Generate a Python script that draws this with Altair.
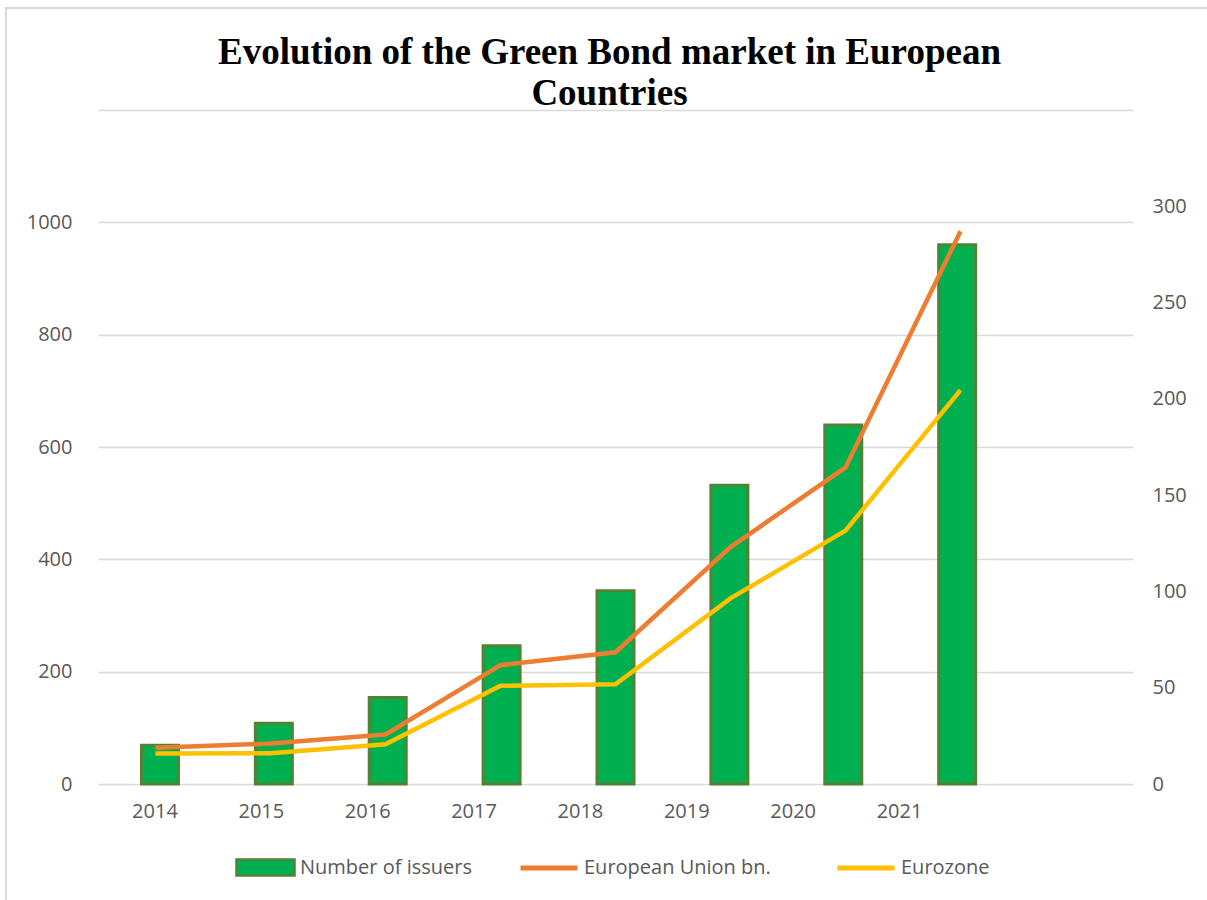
import altair as alt
import pandas as pd

years = [2014, 2015, 2016, 2017, 2018, 2019, 2020, 2021]
issuers = [69, 108, 154, 246, 344, 532, 639, 960]
eu_bn = [18.8, 21.0, 25.7, 61.7, 68.4, 123.0, 164.4, 287.0]
eurozone = [15.9, 16.0, 20.6, 51.0, 51.8, 96.4, 131.6, 204.5]

slot = [y - years[0] + 0.5 for y in years]

bars_df = pd.DataFrame({"slot": slot, "year": years, "value": issuers,
                        "series": ["Number of issuers"] * len(years)})
lines_df = pd.DataFrame({
    "slot": slot * 2,
    "year": years * 2,
    "value": eu_bn + eurozone,
    "series": ["European Union bn."] * len(years) + ["Eurozone"] * len(years),
})
years_df = pd.DataFrame({"year": years})

FONT = "Open Sans"
FS = 20
GREY = "#595959"
GRID = "#D9D9D9"

xslot = alt.Scale(domain=[0, 9], nice=False, zero=False)

bars = alt.Chart(bars_df).mark_bar(size=37, stroke="#548235", strokeWidth=3).encode(
    x=alt.X("slot:Q", scale=xslot, axis=None),
    y=alt.Y("value:Q", scale=alt.Scale(domain=[0, 1200], nice=False),
            axis=alt.Axis(orient="left", values=[0, 200, 400, 600, 800, 1000, 1200],
                          format="d",
                          labelExpr="datum.value >= 1200 ? '' : datum.label",
                          grid=True, gridColor=GRID, gridWidth=1.5, domain=False, ticks=False,
                          labelPadding=26, labelFont=FONT, labelFontSize=FS, labelColor=GREY,
                          title=None)),
    fill=alt.Fill("series:N", scale=alt.Scale(domain=["Number of issuers"], range=["#00B050"]),
                  legend=alt.Legend(orient="none", legendX=137, legendY=727, direction="horizontal",
                                    title=None, symbolType="M-1,-0.28H1V0.28H-1Z", symbolSize=3364,
                                    symbolStrokeColor="#548235", symbolStrokeWidth=2.5,
                                    symbolFillColor="#00B050", symbolOpacity=1,
                                    labelFont=FONT, labelFontSize=FS, labelColor=GREY, labelOffset=4,
                                    labelLimit=400, padding=0)),
)

lines = alt.Chart(lines_df).mark_line(strokeWidth=4.5).encode(
    x=alt.X("slot:Q", scale=xslot, axis=None),
    y=alt.Y("value:Q", scale=alt.Scale(domain=[0, 350], nice=False),
            axis=alt.Axis(orient="right", values=[0, 50, 100, 150, 200, 250, 300],
                          grid=False, domain=False, ticks=False, labelPadding=19,
                          labelFont=FONT, labelFontSize=FS, labelColor=GREY, title=None)),
    stroke=alt.Stroke("series:N",
                      scale=alt.Scale(domain=["European Union bn.", "Eurozone"],
                                      range=["#ED7D31", "#FFC000"]),
                      legend=alt.Legend(orient="none", legendX=420, legendY=727, direction="horizontal",
                                        title=None, symbolType="stroke", symbolSize=3249,
                                        symbolStrokeWidth=5, columnPadding=56,
                                        labelFont=FONT, labelFontSize=FS, labelColor=GREY,
                                        labelOffset=4, labelLimit=400, padding=0)),
    order=alt.Order("slot:Q"),
)

year_axis = alt.Chart(years_df).mark_point(opacity=0).encode(
    x=alt.X("year:Q", scale=alt.Scale(domain=[2013.469, 2023.2], nice=False, zero=False),
            axis=alt.Axis(orient="bottom", values=years, format="d", grid=False, domain=False,
                          ticks=False, labelPadding=17, labelFont=FONT, labelFontSize=FS,
                          labelColor=GREY, title=None)),
)

frame_top = alt.Chart(years_df).mark_rule(color=GRID, strokeWidth=2).encode(
    x=alt.value(-93), x2=alt.value(1109), y=alt.value(-102))
frame_left = alt.Chart(years_df).mark_rule(color=GRID, strokeWidth=2).encode(
    x=alt.value(-92), y=alt.value(-102), y2=alt.value(790))

chart = alt.layer(bars, lines, year_axis, frame_top, frame_left).resolve_scale(
    x="independent", y="independent"
).properties(
    width=1035,
    height=674,
    padding={"left": 98, "top": 110, "right": 74, "bottom": 116},
    autosize=alt.AutoSizeParams(type="none"),
    title=alt.Title(["Evolution of the Green Bond market in European", "Countries"],
                    font="Liberation Serif", fontSize=37, fontWeight="bold", color="black",
                    anchor="middle", offset=4, dy=110, dx=-6, lineHeight=41),
).configure_view(stroke=None)

chart.save("out.html", embed_options={"renderer": "svg", "actions": False})
